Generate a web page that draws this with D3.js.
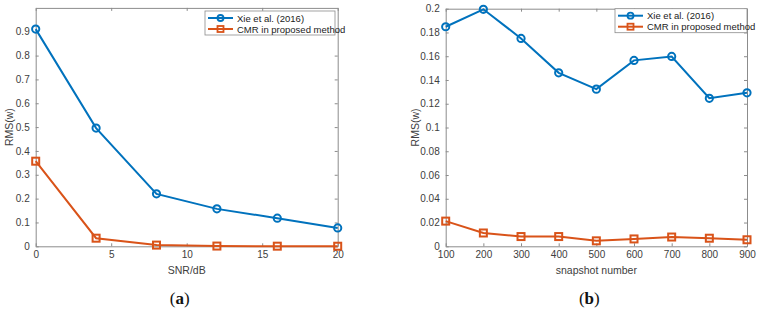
<!DOCTYPE html>
<html>
<head>
<meta charset="utf-8">
<script src="https://cdn.jsdelivr.net/npm/d3@7"></script>
<style>
body { margin: 0; background: #fff; }
svg { display: block; }
</style>
</head>
<body>
<svg width="760" height="314"></svg>
<script>
var svg = d3.select('svg')

// panel (a): RMS vs SNR
var snr = [0, 4, 8, 12, 16, 20]
var snrXie = [0.911, 0.496, 0.220, 0.157, 0.118, 0.077]
var snrCmr = [0.357, 0.034, 0.005, 0.001, 0.0005, 0.0003]
var snrXTicks = [0, 5, 10, 15, 20]
var snrYTicks = [0, 0.1, 0.2, 0.3, 0.4, 0.5, 0.6, 0.7, 0.8, 0.9]

// panel (b): RMS vs snapshot number
var snaps = [100, 200, 300, 400, 500, 600, 700, 800, 900]
var snapXie = [0.1848, 0.1995, 0.1750, 0.1460, 0.1323, 0.1565, 0.1598, 0.1246, 0.1292]
var snapCmr = [0.0212, 0.0112, 0.0082, 0.0082, 0.0046, 0.0062, 0.0078, 0.0068, 0.0055]
var snapXTicks = [100, 200, 300, 400, 500, 600, 700, 800, 900]
var snapYTicks = [0, 0.02, 0.04, 0.06, 0.08, 0.1, 0.12, 0.14, 0.16, 0.18, 0.2]

var seriesNames = ['Xie et al. (2016)', 'CMR in proposed method']
var colors = ['#0072BD', '#D95319']
var axisGray = '#8c8c8c'
var textGray = '#404040'
var font = 'Liberation Sans, Arial, sans-serif'

function drawPanel(p) {
	var g = svg.append('g')
	var x = d3.scaleLinear().domain(p.xDomain).range([p.left, p.right])
	var y = d3.scaleLinear().domain(p.yDomain).range([p.bottom, p.top])

	// frame with inward ticks on all four sides
	var xb = d3.axisBottom(x).tickValues(p.xTicks).tickSizeInner(-3).tickSizeOuter(0).tickPadding(5)
	var xt = d3.axisTop(x).tickValues(p.xTicks).tickSizeInner(-3).tickSizeOuter(0).tickFormat('')
	var yl = d3.axisLeft(y).tickValues(p.yTicks).tickSizeInner(-3).tickSizeOuter(0).tickPadding(6).tickFormat(d3.format('~g'))
	var yr = d3.axisRight(y).tickValues(p.yTicks).tickSizeInner(-3).tickSizeOuter(0).tickFormat('')

	g.append('g').attr('transform', 'translate(0,' + p.bottom + ')').call(xb)
	g.append('g').attr('transform', 'translate(0,' + p.top + ')').call(xt)
	g.append('g').attr('transform', 'translate(' + p.left + ',0)').call(yl)
	g.append('g').attr('transform', 'translate(' + p.right + ',0)').call(yr)
	g.selectAll('.domain, .tick line').attr('stroke', axisGray)
	g.selectAll('.tick text').attr('fill', textGray).attr('font-family', font).attr('font-size', 10)

	// axis labels
	g.append('text')
		.attr('x', (p.left + p.right) / 2).attr('y', p.bottom + 28)
		.attr('text-anchor', 'middle').attr('font-family', font).attr('font-size', 10.5)
		.attr('fill', textGray).text(p.xLabel)
	g.append('text')
		.attr('transform', 'translate(' + p.yLabelX + ',' + (p.top + p.bottom) / 2 + ') rotate(-90)')
		.attr('text-anchor', 'middle').attr('font-family', font).attr('font-size', 10.5)
		.attr('fill', textGray).text('RMS(w)')

	// caption
	g.append('text')
		.attr('x', (p.left + p.right) / 2 - 7).attr('y', 304)
		.attr('text-anchor', 'middle').attr('font-family', 'Liberation Serif, Times New Roman, serif')
		.attr('font-size', 17).attr('fill', '#111')
		.html('(<tspan font-weight="bold">' + p.caption + '</tspan>)')

	var line = d3.line()
		.x(function(d) { return x(d[0]) })
		.y(function(d) { return y(d[1]) })

	p.series.forEach(function(vals, i) {
		var pts = p.xs.map(function(v, k) { return [v, vals[k]] })
		g.append('path').datum(pts)
			.attr('d', line).attr('fill', 'none')
			.attr('stroke', colors[i]).attr('stroke-width', 2)
		if (i == 0) {
			g.selectAll(null).data(pts).enter().append('circle')
				.attr('cx', function(d) { return x(d[0]) })
				.attr('cy', function(d) { return y(d[1]) })
				.attr('r', 3.6).attr('fill', 'none')
				.attr('stroke', colors[i]).attr('stroke-width', 2)
		} else {
			g.selectAll(null).data(pts).enter().append('rect')
				.attr('x', function(d) { return x(d[0]) - 3.5 })
				.attr('y', function(d) { return y(d[1]) - 3.5 })
				.attr('width', 7).attr('height', 7).attr('fill', 'none')
				.attr('stroke', colors[i]).attr('stroke-width', 2)
		}
	})

	// legend
	var lg = g.append('g').attr('transform', 'translate(' + p.legX + ',' + p.legY + ')')
	lg.append('rect').attr('width', p.legW).attr('height', 24)
		.attr('fill', '#fff').attr('stroke', axisGray).attr('stroke-width', 0.8)
	seriesNames.forEach(function(name, i) {
		var yy = 7 + i * 11
		lg.append('line').attr('x1', 3).attr('x2', 28).attr('y1', yy).attr('y2', yy)
			.attr('stroke', colors[i]).attr('stroke-width', 2)
		if (i == 0) {
			lg.append('circle').attr('cx', 15.5).attr('cy', yy).attr('r', 3)
				.attr('fill', 'none').attr('stroke', colors[i]).attr('stroke-width', 1.8)
		} else {
			lg.append('rect').attr('x', 12.5).attr('y', yy - 3).attr('width', 6).attr('height', 6)
				.attr('fill', 'none').attr('stroke', colors[i]).attr('stroke-width', 1.8)
		}
		lg.append('text').attr('x', 32).attr('y', yy + 3.5)
			.attr('font-family', font).attr('font-size', 9.5).attr('fill', '#222').text(name)
	})
}

drawPanel({
	xs: snr, series: [snrXie, snrCmr],
	xDomain: [0, 20], yDomain: [0, 1],
	xTicks: snrXTicks, yTicks: snrYTicks,
	left: 35.7, right: 337.7, top: 7.9, bottom: 246.3,
	xLabel: 'SNR/dB', yLabelX: 13, caption: 'a',
	legX: 205, legY: 11, legW: 130
})

drawPanel({
	xs: snaps, series: [snapXie, snapCmr],
	xDomain: [100, 900], yDomain: [0, 0.2],
	xTicks: snapXTicks, yTicks: snapYTicks,
	left: 445.7, right: 747, top: 8.7, bottom: 246.3,
	xLabel: 'snapshot number', yLabelX: 419, caption: 'b',
	legX: 615, legY: 8.7, legW: 132
})
</script>
</body>
</html>
